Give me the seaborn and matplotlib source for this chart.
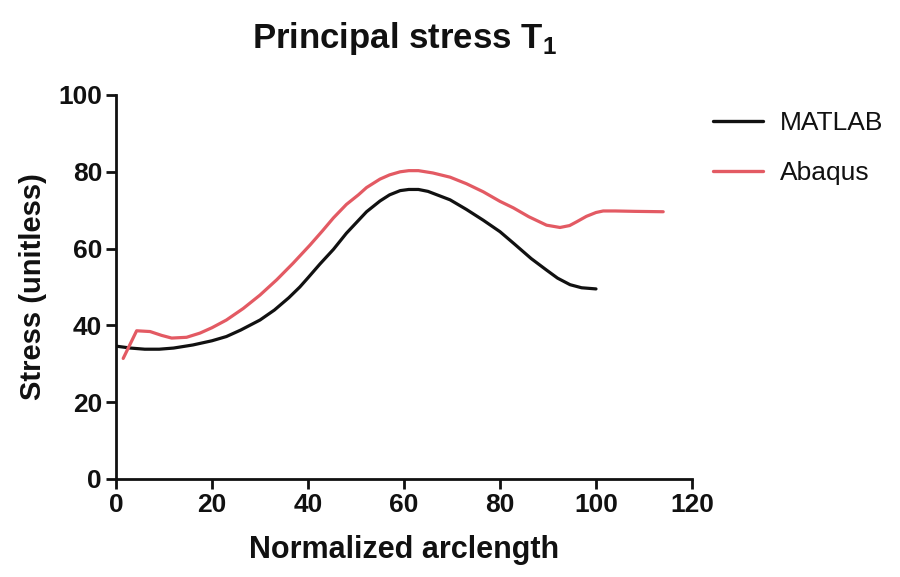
import numpy as np
import pandas as pd
import matplotlib
matplotlib.use("Agg")
import matplotlib.pyplot as plt
import seaborn as sns

# Principal stress along the normalized arclength
matlab_x = [0, 3, 6, 9, 12, 16, 20, 23, 26, 30, 33, 36, 38.3, 40, 42.5, 45.3, 48, 52.2, 55, 57, 59.2, 61, 63, 65,
            69.6, 73, 76.5, 80, 83, 86.5, 89.7, 92, 94.6, 97, 100]
matlab_y = [34.6, 34.1, 33.8, 33.8, 34.1, 34.9, 36.0, 37.1, 38.8, 41.4, 44.0, 47.2, 50.0, 52.4, 56.0, 59.8, 64.0, 69.6, 72.4, 74.0, 75.1, 75.4, 75.4, 74.9,
            72.7, 70.2, 67.4, 64.4, 61.2, 57.4, 54.4, 52.3, 50.6, 49.8, 49.5]

abaqus_x = [1.5, 4.3, 7.1, 9.5, 11.6, 14.7, 17.5, 20, 23, 26.5, 30, 33.5, 36.9, 40.4, 43, 45.3, 48, 50.5, 52.2, 55, 57,
            59.2, 61, 63, 66, 69.6, 73, 76.5, 80, 82.8, 86, 89.7, 92.5, 94.5, 96, 98, 100, 101.5, 104, 108, 114]
abaqus_y = [31.4, 38.6, 38.4, 37.4, 36.7, 36.9, 38.0, 39.4, 41.4, 44.4, 47.9, 51.9, 56.2, 60.9, 64.6, 68.0, 71.5, 74.0, 75.9, 78.1, 79.2,
            80.0, 80.3, 80.3, 79.7, 78.6, 76.9, 74.8, 72.3, 70.6, 68.3, 66.1, 65.5, 66.0, 67.0, 68.4, 69.4, 69.8, 69.8, 69.7, 69.6]

df = pd.concat([
    pd.DataFrame({"x": matlab_x, "y": matlab_y, "source": "MATLAB"}),
    pd.DataFrame({"x": abaqus_x, "y": abaqus_y, "source": "Abaqus"}),
])

sns.set_theme(style="ticks")
plt.rcParams["font.family"] = ["Liberation Sans", "DejaVu Sans"]
plt.rcParams["mathtext.fontset"] = "custom"
plt.rcParams["mathtext.bf"] = "Liberation Sans:bold"
plt.rcParams["mathtext.rm"] = "Liberation Sans"

fig = plt.figure(figsize=(9, 5.77), dpi=100)
ax = fig.add_axes([116 / 900, 1 - 479 / 577, (692 - 116) / 900, (479 - 95) / 577])

sns.lineplot(data=df, x="x", y="y", hue="source", sort=False,
             palette={"MATLAB": "#111111", "Abaqus": "#e35a63"},
             linewidth=2.3, ax=ax)

ax.set_xlim(0, 120)
ax.set_ylim(0, 100)
ax.set_xticks(range(0, 121, 20))
ax.set_yticks(range(0, 101, 20))
for s in ["top", "right"]:
    ax.spines[s].set_visible(False)
for s in ["left", "bottom"]:
    ax.spines[s].set_linewidth(2.0)
    ax.spines[s].set_color("#111111")
ax.tick_params(width=2.0, length=7, color="#111111", labelcolor="#111111", labelsize=19, pad=3)
for lab in ax.get_xticklabels() + ax.get_yticklabels():
    lab.set_fontweight("bold")
ax.margins(0)

ax.set_xlabel("Normalized arclength", fontsize=22, fontweight="bold", labelpad=13, color="#111111")
ax.set_ylabel("Stress (unitless)", fontsize=21, fontweight="bold", labelpad=8, color="#111111")
ax.set_title(r"Principal stress T$_\mathbf{1}$", fontsize=25, fontweight="bold", pad=34, color="#111111")

leg = ax.legend(loc="upper left", bbox_to_anchor=(0.995, 1.02), frameon=False,
                fontsize=19, handlelength=1.9, labelspacing=1.0, handletextpad=0.65)
for line in leg.get_lines():
    line.set_linewidth(2.4)
for t in leg.get_texts():
    t.set_color("#111111")

fig.savefig("out.png", dpi=100, facecolor="white")
